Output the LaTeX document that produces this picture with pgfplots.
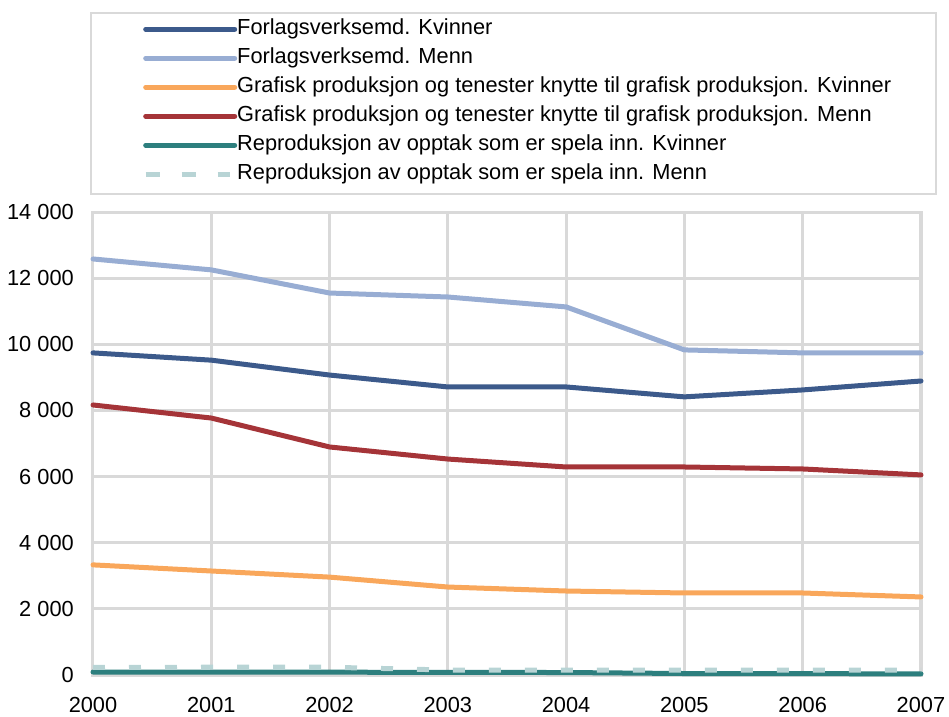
\documentclass[border=0pt]{standalone}
\usepackage{fontspec}
\setmainfont{Liberation Sans}
\usepackage{pgfplots}
\pgfplotsset{compat=1.18}
\definecolor{cFK}{HTML}{3C5A8B}
\definecolor{cFM}{HTML}{98ADD3}
\definecolor{cGK}{HTML}{F9A75B}
\definecolor{cGM}{HTML}{A53438}
\definecolor{cRK}{HTML}{2D7F7E}
\definecolor{cRM}{HTML}{B8D4D5}
\definecolor{gridc}{HTML}{D9D9D9}
\pgfplotsset{
  mylegimg/.style={legend image code/.code={\path (0pt,0pt) -- (89pt,0pt);\draw[#1] (2.5pt,0pt) -- (83pt,0pt);}}
}
\begin{document}
\begin{tikzpicture}
\begin{axis}[
  at={(0pt,0pt)}, anchor=south west,
  width=828pt, height=463pt, scale only axis,
  xmin=2000, xmax=2007, ymin=0, ymax=14000,
  scaled y ticks=false,
  xtick={2000,...,2007},
  xticklabels={2000,2001,2002,2003,2004,2005,2006,2007},
  ytick={0,2000,...,14000},
  yticklabels={0,2 000,4 000,6 000,8 000,10 000,12 000,14 000},
  major tick length=0pt,
  grid=major,
  major grid style={draw=gridc, line width=3pt},
  axis line style={draw=gridc, line width=3pt},
  font=\fontsize{21.8}{26}\selectfont,
  yticklabel style={anchor=east, inner sep=0pt, xshift=-19pt},
  xticklabel style={anchor=north, inner sep=0pt, yshift=-22pt},
  clip=false,
  mylegimg,
  legend cell align=left,
  legend style={at={(axis description cs:0.0604,1.4179)}, anchor=north west,
    draw=none, fill=none, inner sep=0pt, row sep=8pt, column sep=0pt,
    nodes={inner sep=0pt, text height=16pt, text depth=5pt}},
]
\addplot[cFK, line width=5pt, line cap=round] coordinates {
 (2000,9740) (2001,9520) (2002,9070) (2003,8710) (2004,8710) (2005,8410) (2006,8620) (2007,8890)};
\addlegendentry{Forlagsverksemd. Kvinner}
\addplot[cFM, line width=5pt, line cap=round] coordinates {
 (2000,12580) (2001,12250) (2002,11550) (2003,11430) (2004,11130) (2005,9830) (2006,9740) (2007,9740)};
\addlegendentry{Forlagsverksemd. Menn}
\addplot[cGK, line width=5pt, line cap=round] coordinates {
 (2000,3330) (2001,3145) (2002,2960) (2003,2660) (2004,2540) (2005,2480) (2006,2480) (2007,2360)};
\addlegendentry{Grafisk produksjon og tenester knytte til grafisk produksjon. Kvinner}
\addplot[cGM, line width=5pt, line cap=round] coordinates {
 (2000,8165) (2001,7770) (2002,6895) (2003,6530) (2004,6290) (2005,6290) (2006,6230) (2007,6050)};
\addlegendentry{Grafisk produksjon og tenester knytte til grafisk produksjon. Menn}
\addplot[cRK, line width=5pt, line cap=round] coordinates {
 (2000,90) (2001,90) (2002,85) (2003,80) (2004,75) (2005,45) (2006,40) (2007,35)};
\addlegendentry{Reproduksjon av opptak som er spela inn. Kvinner}
\addplot[cRM, line width=5pt, dash pattern=on 12pt off 24pt] coordinates {
 (2000,230) (2001,235) (2002,235) (2003,150) (2004,150) (2005,145) (2006,145) (2007,145)};
\addlegendentry{Reproduksjon av opptak som er spela inn. Menn}
\end{axis}
\draw[gridc, line width=2pt] (-2pt,481pt) rectangle (843pt,662pt);
\pgfresetboundingbox
\path[use as bounding box] (-93pt,-41pt) rectangle (856pt,675pt);
\end{tikzpicture}
\end{document}
